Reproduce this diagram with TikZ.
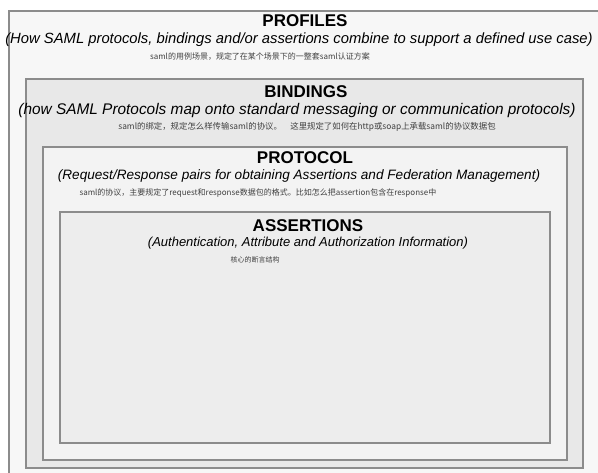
\documentclass[tikz,border=0pt]{standalone}
\usepackage{fontspec}
\setmainfont{Liberation Sans}
\newfontfamily\cjk{Noto Sans CJK SC}
\usetikzlibrary{positioning}

\definecolor{edgegray}{HTML}{8C8C8C}
\definecolor{profilesbg}{HTML}{F7F7F7}
\definecolor{bindingsbg}{HTML}{E8E8E8}
\definecolor{protocolbg}{HTML}{F3F3F3}
\definecolor{assertbg}{HTML}{EDEDED}

\begin{document}
\begin{tikzpicture}[x=1pt,y=-1pt,
    layer/.style={draw=edgegray, line width=1.1pt},
    title/.style={font=\bfseries\fontsize{17}{19}\selectfont},
    subtitle/.style={font=\itshape\fontsize{#1}{16}\selectfont},
    note/.style={font=\cjk\fontsize{#1}{9}\selectfont, text=black!75}]

    \useasboundingbox (0,0) rectangle (598,473);
    \fill[white] (0,0) rectangle (598,473);

    % nested layers
    \draw[layer, fill=profilesbg] (9,11) rectangle (620,490);
    \draw[layer, fill=bindingsbg] (26,79) rectangle (583,468);
    \draw[layer, fill=protocolbg] (43,147) rectangle (567,460);
    \draw[layer, fill=assertbg] (60,212) rectangle (550,443);

    \node[title] (profiles) at (305,21) {PROFILES};
    \node[subtitle=14.8] (profilesSub) at (299,40) {(How SAML protocols, bindings and/or assertions combine to support a defined use case)};
    \node[note=8] (profilesNote) at (260,57) {saml的用例场景，规定了在某个场景下的一整套saml认证方案};

    \node[title] (bindings) at (306,92) {BINDINGS};
    \node[subtitle=15.4] (bindingsSub) at (297,111) {(how SAML Protocols map onto standard messaging or communication protocols)};
    \node[note=8.4] (bindingsNote) at (307,127) {saml的绑定，规定怎么样传输saml的协议。\quad 这里规定了如何在http或soap上承载saml的协议数据包};

    \node[title] (protocol) at (305,158) {PROTOCOL};
    \node[subtitle=13.6] (protocolSub) at (299,176) {(Request/Response pairs for obtaining Assertions and Federation Management)};
    \node[note=8, anchor=west] (protocolNote) at (76,193) {saml的协议，主要规定了request和response数据包的格式。比如怎么把assertion包含在response中};

    \node[title] (assertions) at (308,226) {ASSERTIONS};
    \node[subtitle=13] (assertionsSub) at (308,243) {(Authentication, Attribute and Authorization Information)};
    \node[note=7] (assertionsNote) at (255,260) {核心的断言结构};

\end{tikzpicture}
\end{document}
